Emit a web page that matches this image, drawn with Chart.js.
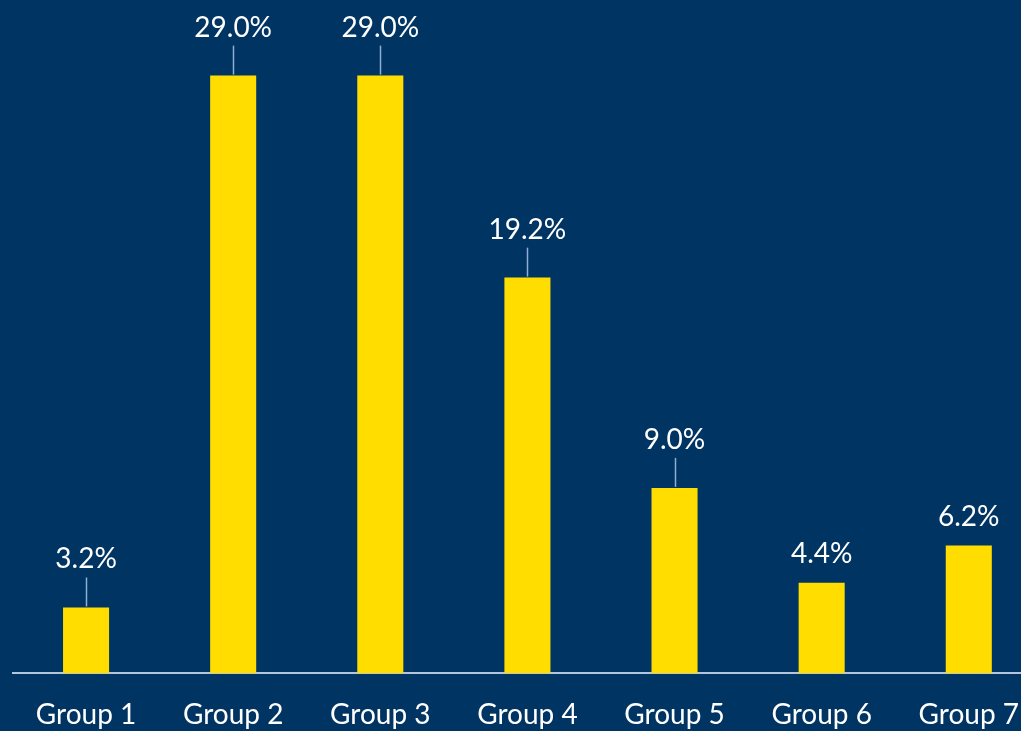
<!DOCTYPE html>
<html>
<head>
<meta charset="utf-8">
<script src="https://cdn.jsdelivr.net/npm/chart.js@4"></script>
<style>
    html, body { margin: 0; padding: 0; background: #003463; overflow: hidden; }
    #wrap { position: relative; width: 1044px; height: 757px; }
</style>
</head>
<body>
<div id="wrap"><canvas id="shareChart"></canvas></div>
<script>
// Share of respondents per group (percent)
const groups = ['Group 1', 'Group 2', 'Group 3', 'Group 4', 'Group 5', 'Group 6', 'Group 7'];
const shares = [3.2, 29.0, 29.0, 19.2, 9.0, 4.4, 6.2];
// Which value labels get a small pointer line down to the bar
const withPointer = [true, true, true, true, true, false, false];

const labelFont = '28px Lato';

// Draws the percentage above each bar, with an optional pointer line
const valueLabels = {
    id: 'valueLabels',
    afterDatasetsDraw(chart) {
        const ctx = chart.ctx;
        const meta = chart.getDatasetMeta(0);
        ctx.save();
        ctx.font = labelFont;
        ctx.fillStyle = '#ffffff';
        ctx.textAlign = 'center';
        ctx.textBaseline = 'alphabetic';
        meta.data.forEach((bar, i) => {
            const text = shares[i].toFixed(1) + '%';
            if (withPointer[i]) {
                ctx.strokeStyle = '#8eaed6';
                ctx.lineWidth = 1.5;
                ctx.beginPath();
                ctx.moveTo(Math.round(bar.x) + 0.5, bar.y - 30);
                ctx.lineTo(Math.round(bar.x) + 0.5, bar.y - 1);
                ctx.stroke();
                ctx.fillText(text, bar.x, bar.y - 39);
            } else {
                ctx.fillText(text, bar.x, bar.y - 20);
            }
        });
        ctx.restore();
    }
};

const chartConfig = {
    type: 'bar',
    data: {
        labels: groups,
        datasets: [{
            label: 'Share',
            data: shares,
            backgroundColor: '#ffdd00',
            borderWidth: 0,
            barPercentage: 0.313,
            categoryPercentage: 1
        }]
    },
    options: {
        responsive: true,
        maintainAspectRatio: false,
        animation: false,
        layout: {
            padding: { left: 12.5, right: 0, top: 55, bottom: 0 }
        },
        scales: {
            y: {
                display: false,
                min: 0,
                max: 30
            },
            x: {
                grid: { display: false, drawTicks: false },
                border: { display: true, color: '#b4c6de', width: 2 },
                ticks: {
                    color: '#ffffff',
                    padding: 25,
                    maxRotation: 0,
                    autoSkip: false,
                    font: { family: 'Lato', size: 28 }
                }
            }
        },
        plugins: {
            legend: { display: false },
            tooltip: { enabled: false }
        }
    },
    plugins: [valueLabels]
};

const shareChart = new Chart('shareChart', chartConfig);
</script>
</body>
</html>
